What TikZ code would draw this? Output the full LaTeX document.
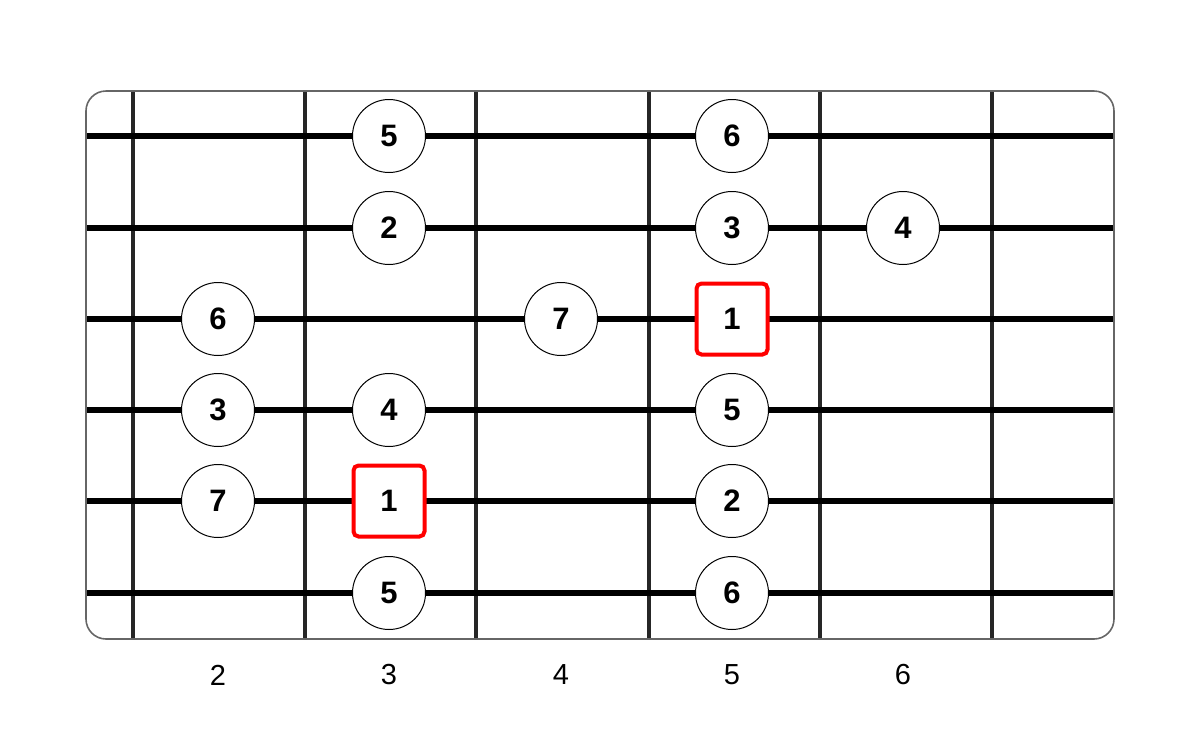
\documentclass[tikz,border=0pt]{standalone}
\usepackage{fontspec}
\setmainfont{Liberation Sans}
\begin{document}
\begin{tikzpicture}[x=1pt,y=-1pt,
  fretline/.style={line width=3.4pt,black!85},
  stringline/.style={line width=6pt,black},
  note/.style={circle,draw,line width=1pt,fill=white,minimum size=73pt,inner sep=0pt,font=\fontsize{31}{31}\selectfont\bfseries},
  root/.style={rectangle,rounded corners=5pt,draw=red,line width=4pt,fill=white,minimum size=71pt,inner sep=0pt,font=\fontsize{31}{31}\selectfont\bfseries},
  fretlabel/.style={font=\fontsize{29}{29}\selectfont}]
\useasboundingbox (0,0) rectangle (1200,729);
\begin{scope}
\clip[rounded corners=20pt] (86,91) rectangle (1114,639);
\foreach \x [count=\i] in {133,305,476,649,820,992} {
  \coordinate (ft\i) at (\x,91);
  \coordinate (fb\i) at (\x,639);
  \draw[fretline] (ft\i) -- (fb\i);
}
\foreach \y [count=\i] in {136,228,319,410,501,593} {
  \coordinate (sl\i) at (86,\y);
  \coordinate (sr\i) at (1114,\y);
  \draw[stringline] (sl\i) -- (sr\i);
}
\end{scope}
\draw[black!60,line width=1.6pt,rounded corners=20pt] (86,91) rectangle (1114,639);
% notes
\node[note] (n1a) at (389,136) {5};
\node[note] (n1b) at (732,136) {6};
\node[note] (n2a) at (389,228) {2};
\node[note] (n2b) at (732,228) {3};
\node[note] (n2c) at (903,228) {4};
\node[note] (n3a) at (218,319) {6};
\node[note] (n3b) at (561,319) {7};
\node[root] (n3c) at (732,319) {1};
\node[note] (n4a) at (218,410) {3};
\node[note] (n4b) at (389,410) {4};
\node[note] (n4c) at (732,410) {5};
\node[note] (n5a) at (218,501) {7};
\node[root] (n5b) at (389,501) {1};
\node[note] (n5c) at (732,501) {2};
\node[note] (n6a) at (389,593) {5};
\node[note] (n6b) at (732,593) {6};
% fret labels
\node[fretlabel] (l2) at (218,675) {2};
\node[fretlabel] (l3) at (389,675) {3};
\node[fretlabel] (l4) at (561,675) {4};
\node[fretlabel] (l5) at (732,675) {5};
\node[fretlabel] (l6) at (903,675) {6};
\end{tikzpicture}
\end{document}
